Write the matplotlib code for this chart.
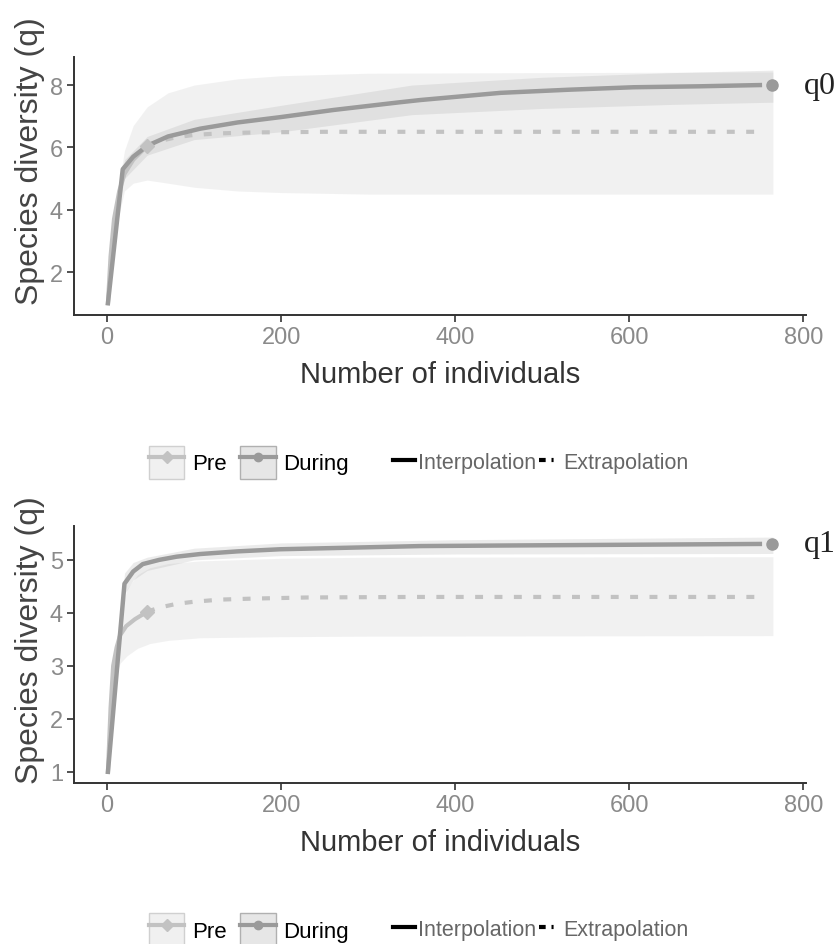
import matplotlib.pyplot as plt
from matplotlib.lines import Line2D
from matplotlib.patches import Patch
from matplotlib.legend_handler import HandlerTuple

plt.rcParams['font.family'] = ['Liberation Sans', 'DejaVu Sans']

PRE_COLOR = '#c2c2c2'
DUR_COLOR = '#9a9a9a'

# ---- q0 ----
q0_pre_x = [1, 4, 8, 14, 20, 30, 46]
q0_pre_y = [1.0, 2.5, 3.7, 4.6, 5.15, 5.6, 6.05]
q0_pre_ext_x = [46, 60, 80, 100, 130, 170, 250, 400, 755]
q0_pre_ext_y = [6.05, 6.2, 6.33, 6.4, 6.45, 6.48, 6.5, 6.5, 6.5]
q0_dur_x = [1, 18, 30, 46, 70, 107, 150, 199, 260, 337, 360, 452, 530, 605, 680, 750]
q0_dur_y = [1.0, 5.3, 5.7, 6.05, 6.35, 6.6, 6.8, 6.97, 7.2, 7.45, 7.52, 7.75, 7.85, 7.93, 7.96, 8.0]
q0_pre_obs = (46, 6.05)
q0_dur_obs = (764, 8.0)

q0_pre_band_x = [1, 5, 10, 20, 30, 46, 70, 100, 150, 200, 300, 500, 765]
q0_pre_band_lo = [1.0, 2.3, 3.4, 4.6, 4.85, 4.95, 4.85, 4.72, 4.6, 4.55, 4.5, 4.5, 4.5]
q0_pre_band_hi = [1.0, 2.9, 4.2, 5.9, 6.7, 7.3, 7.75, 8.0, 8.2, 8.3, 8.38, 8.4, 8.42]
q0_dur_band_x = [1, 5, 10, 20, 46, 100, 200, 350, 500, 650, 765]
q0_dur_band_lo = [1.0, 2.6, 3.7, 5.0, 5.75, 6.25, 6.5, 7.05, 7.25, 7.38, 7.45]
q0_dur_band_hi = [1.0, 3.0, 4.3, 5.6, 6.35, 6.9, 7.35, 8.0, 8.25, 8.4, 8.48]

# ---- q1 ----
q1_pre_x = [1, 4, 7, 11, 15, 22, 32, 46]
q1_pre_y = [1.0, 2.2, 3.0, 3.35, 3.58, 3.75, 3.88, 4.02]
q1_pre_ext_x = [46, 60, 80, 100, 130, 170, 230, 350, 755]
q1_pre_ext_y = [4.02, 4.1, 4.17, 4.21, 4.25, 4.27, 4.29, 4.3, 4.3]
q1_dur_x = [1, 20, 30, 41, 60, 80, 107, 150, 199, 280, 360, 450, 550, 650, 750]
q1_dur_y = [1.0, 4.55, 4.78, 4.92, 5.0, 5.06, 5.11, 5.16, 5.2, 5.23, 5.26, 5.27, 5.28, 5.29, 5.3]
q1_pre_obs = (46, 4.02)
q1_dur_obs = (764, 5.3)

q1_pre_band_x = [1, 5, 10, 15, 23, 35, 49, 70, 107, 200, 300, 765]
q1_pre_band_lo = [1.0, 2.1, 2.8, 3.05, 3.19, 3.33, 3.42, 3.48, 3.53, 3.55, 3.56, 3.57]
q1_pre_band_hi = [1.0, 2.4, 3.4, 4.0, 4.45, 4.72, 4.85, 4.93, 4.98, 5.03, 5.05, 5.06]
q1_dur_band_x = [1, 20, 30, 46, 100, 200, 400, 765]
q1_dur_band_lo = [1.0, 4.35, 4.62, 4.8, 5.0, 5.08, 5.11, 5.12]
q1_dur_band_hi = [1.0, 4.75, 4.95, 5.05, 5.22, 5.32, 5.38, 5.43]

x_ticks = [0, 200, 400, 600, 800]


def draw_panel(ax, d, ylim, yticks, tag, ylab_y):
    ax.fill_between(d['pre_band_x'], d['pre_band_lo'], d['pre_band_hi'],
                    color='#bdbdbd', alpha=0.2, lw=0)
    ax.fill_between(d['dur_band_x'], d['dur_band_lo'], d['dur_band_hi'],
                    color='#9e9e9e', alpha=0.2, lw=0)
    ax.plot(d['pre_ext_x'], d['pre_ext_y'], color=PRE_COLOR, lw=3, dashes=(1.9, 2.75))
    ax.plot(d['pre_x'], d['pre_y'], color=PRE_COLOR, lw=3)
    ax.plot(d['dur_x'], d['dur_y'], color=DUR_COLOR, lw=3.2)
    ax.plot(*d['pre_obs'], marker='D', ms=7, color=PRE_COLOR)
    ax.plot(*d['dur_obs'], marker='o', ms=8, color=DUR_COLOR)

    ax.set_xlim(-38, 803)
    ax.set_ylim(*ylim)
    ax.set_xticks(x_ticks)
    ax.set_yticks(yticks)
    for s in ['top', 'right']:
        ax.spines[s].set_visible(False)
    for s in ['left', 'bottom']:
        ax.spines[s].set_color('#333333')
        ax.spines[s].set_linewidth(1.4)
    ax.tick_params(colors='#333333', length=5, width=1.2, labelsize=17, pad=3,
                   labelcolor='#8a8a8a')
    ax.set_xlabel('Number of individuals', fontsize=21, color='#333333')
    ax.set_ylabel('Species diversity (q)', fontsize=23, color='#444444')
    ax.xaxis.set_label_coords(0.5, -0.175)
    ax.yaxis.set_label_coords(-0.04, ylab_y)
    ax.text(800, d['dur_obs'][1], tag, fontsize=23, family='Liberation Serif',
            color='#222222', va='center', ha='left', clip_on=False)

    # legend: group boxes
    pre_h = (Patch(facecolor='#f0f0f0', edgecolor='#d0d0d0'),
             Line2D([], [], color=PRE_COLOR, lw=3, marker='D', ms=6))
    dur_h = (Patch(facecolor='#e6e6e6', edgecolor='#b0b0b0'),
             Line2D([], [], color=DUR_COLOR, lw=3, marker='o', ms=6))
    leg1 = ax.legend([pre_h, dur_h], ['Pre', 'During'],
                     handler_map={tuple: HandlerTuple(ndivide=1)},
                     loc='center left', bbox_to_anchor=(0.075, -0.57), ncol=2,
                     frameon=False, fontsize=16, handlelength=1.6, handleheight=1.9,
                     handletextpad=0.35, columnspacing=0.6)
    ax.add_artist(leg1)
    # legend: line types
    int_h = Line2D([], [], color='black', lw=3)
    ext_h = Line2D([], [], color='black', lw=3, dashes=(1.6, 1.4, 0.5, 10))
    leg2 = ax.legend([int_h, ext_h], ['Interpolation', 'Extrapolation'],
                     loc='center left', bbox_to_anchor=(0.41, -0.57), ncol=2,
                     frameon=False, fontsize=15.5, handlelength=1.0,
                     handletextpad=0.15, columnspacing=0.1)
    for t in leg2.get_texts():
        t.set_color('#666666')


q0 = dict(pre_x=q0_pre_x, pre_y=q0_pre_y, pre_ext_x=q0_pre_ext_x, pre_ext_y=q0_pre_ext_y,
          dur_x=q0_dur_x, dur_y=q0_dur_y, pre_obs=q0_pre_obs, dur_obs=q0_dur_obs,
          pre_band_x=q0_pre_band_x, pre_band_lo=q0_pre_band_lo, pre_band_hi=q0_pre_band_hi,
          dur_band_x=q0_dur_band_x, dur_band_lo=q0_dur_band_lo, dur_band_hi=q0_dur_band_hi)
q1 = dict(pre_x=q1_pre_x, pre_y=q1_pre_y, pre_ext_x=q1_pre_ext_x, pre_ext_y=q1_pre_ext_y,
          dur_x=q1_dur_x, dur_y=q1_dur_y, pre_obs=q1_pre_obs, dur_obs=q1_dur_obs,
          pre_band_x=q1_pre_band_x, pre_band_lo=q1_pre_band_lo, pre_band_hi=q1_pre_band_hi,
          dur_band_x=q1_dur_band_x, dur_band_lo=q1_dur_band_lo, dur_band_hi=q1_dur_band_hi)

fig = plt.figure(figsize=(8.38, 9.45), dpi=100)
ax1 = fig.add_axes([0.0883, 0.6656, 0.8735, 0.273])
ax2 = fig.add_axes([0.0883, 0.1704, 0.8735, 0.272])

draw_panel(ax1, q0, (0.62, 8.9), [2, 4, 6, 8], 'q0', 0.6)
draw_panel(ax2, q1, (0.79, 5.64), [1, 2, 3, 4, 5], 'q1', 0.56)

fig.savefig('out.png', dpi=100)
